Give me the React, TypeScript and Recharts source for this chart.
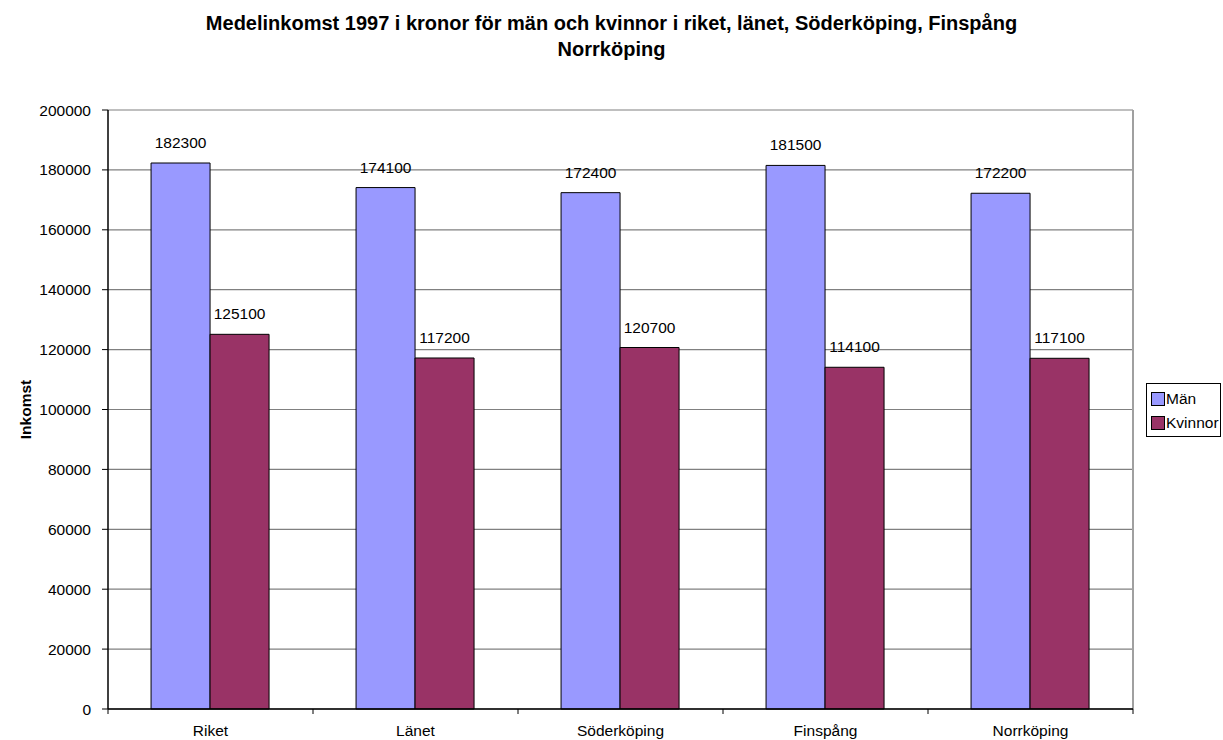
import React from 'react';
import { BarChart, Bar, XAxis, YAxis, CartesianGrid, LabelList } from 'recharts';

const categories = ['Riket', 'Länet', 'Söderköping', 'Finspång', 'Norrköping'];
const manValues = [182300, 174100, 172400, 181500, 172200];
const kvinnorValues = [125100, 117200, 120700, 114100, 117100];
const yTicks = [0, 20000, 40000, 60000, 80000, 100000, 120000, 140000, 160000, 180000, 200000];
const seriesNames = ['Män', 'Kvinnor'];
const seriesColors = ['#9999FF', '#993366'];

const data = categories.map((c, i) => ({ name: c, man: manValues[i], kvinnor: kvinnorValues[i] }));

const W = 1223;
const H = 740;
const M = { top: 110, right: 90, bottom: 0, left: 0 };
const Y_W = 108;
const X_H = 31;
const BAND = (W - M.left - M.right - Y_W) / categories.length;
const FONT = '"Liberation Sans", Arial, sans-serif';
const FS = 15.5;

const XTick = (props: any) => {
  const { x, y, payload, index } = props;
  const left = x - BAND / 2;
  return (
    <g>
      <line x1={left} y1={y - 8} x2={left} y2={y - 3} stroke="#000" strokeWidth={1} />
      {index === categories.length - 1 && (
        <line x1={x + BAND / 2} y1={y - 8} x2={x + BAND / 2} y2={y - 3} stroke="#000" strokeWidth={1} />
      )}
      <text x={x} y={y + 19} textAnchor="middle" fontSize={FS} fontFamily={FONT} fill="#000">
        {payload.value}
      </text>
    </g>
  );
};

const LegendBox = () => (
  <div
    style={{
      position: 'absolute',
      left: 1146,
      top: 383,
      border: '1px solid #000',
      width: 75,
      height: 54,
      boxSizing: 'border-box',
      padding: '3px 0 0 4px',
      fontFamily: FONT,
      fontSize: FS,
      background: '#fff',
      color: '#000',
    }}
  >
    {seriesNames.map((label, i) => (
      <div key={label} style={{ display: 'flex', alignItems: 'center', height: 24 }}>
        <span
          style={{
            display: 'inline-block',
            width: 12,
            height: 12,
            background: seriesColors[i],
            border: '1px solid #000',
            marginRight: 1,
          }}
        />
        <span>{label}</span>
      </div>
    ))}
  </div>
);

export default function App() {
  return (
    <div style={{ position: 'absolute', left: 0, top: 0, width: W, height: H, background: '#fff' }}>
      <div
        style={{
          position: 'absolute',
          left: 0,
          top: 10,
          width: W,
          textAlign: 'center',
          fontFamily: FONT,
          fontWeight: 'bold',
          fontSize: 20,
          lineHeight: '26px',
          color: '#000',
        }}
      >
        Medelinkomst 1997 i kronor för män och kvinnor i riket, länet, Söderköping, Finspång
        <br />
        Norrköping
      </div>
      <BarChart
        width={W}
        height={H}
        data={data}
        margin={M}
        barCategoryGap="21%"
        barGap={0}
        style={{ position: 'absolute', left: 0, top: 0 }}
      >
        <CartesianGrid vertical={false} stroke="#808080" strokeWidth={1.2} />
        <CartesianGrid horizontal={false} verticalPoints={[W - M.right]} stroke="#a0a0a0" strokeWidth={2} />
        <XAxis
          dataKey="name"
          height={X_H}
          axisLine={{ stroke: '#000', strokeWidth: 1.5 }}
          tickLine={false}
          tick={<XTick />}
          interval={0}
        />
        <YAxis
          width={Y_W}
          domain={[0, 200000]}
          ticks={yTicks}
          interval={0}
          axisLine={{ stroke: '#000', strokeWidth: 1.5 }}
          tickLine={{ stroke: '#000' }}
          tickSize={6}
          tickMargin={11}
          tick={{ fontSize: FS, fontFamily: FONT, fill: '#000' }}
          label={{
            value: 'Inkomst',
            angle: -90,
            position: 'insideLeft',
            offset: 25,
            style: { fontSize: FS, fontWeight: 'bold', fontFamily: FONT, fill: '#000', textAnchor: 'middle' },
          }}
        />
        <Bar dataKey="man" name={seriesNames[0]} fill={seriesColors[0]} stroke="#000" strokeWidth={1} isAnimationActive={false}>
          <LabelList dataKey="man" position="top" offset={15} style={{ fontSize: FS, fontFamily: FONT, fill: '#000' }} />
        </Bar>
        <Bar dataKey="kvinnor" name={seriesNames[1]} fill={seriesColors[1]} stroke="#000" strokeWidth={1} isAnimationActive={false}>
          <LabelList dataKey="kvinnor" position="top" offset={15} style={{ fontSize: FS, fontFamily: FONT, fill: '#000' }} />
        </Bar>
      </BarChart>
      <LegendBox />
    </div>
  );
}
